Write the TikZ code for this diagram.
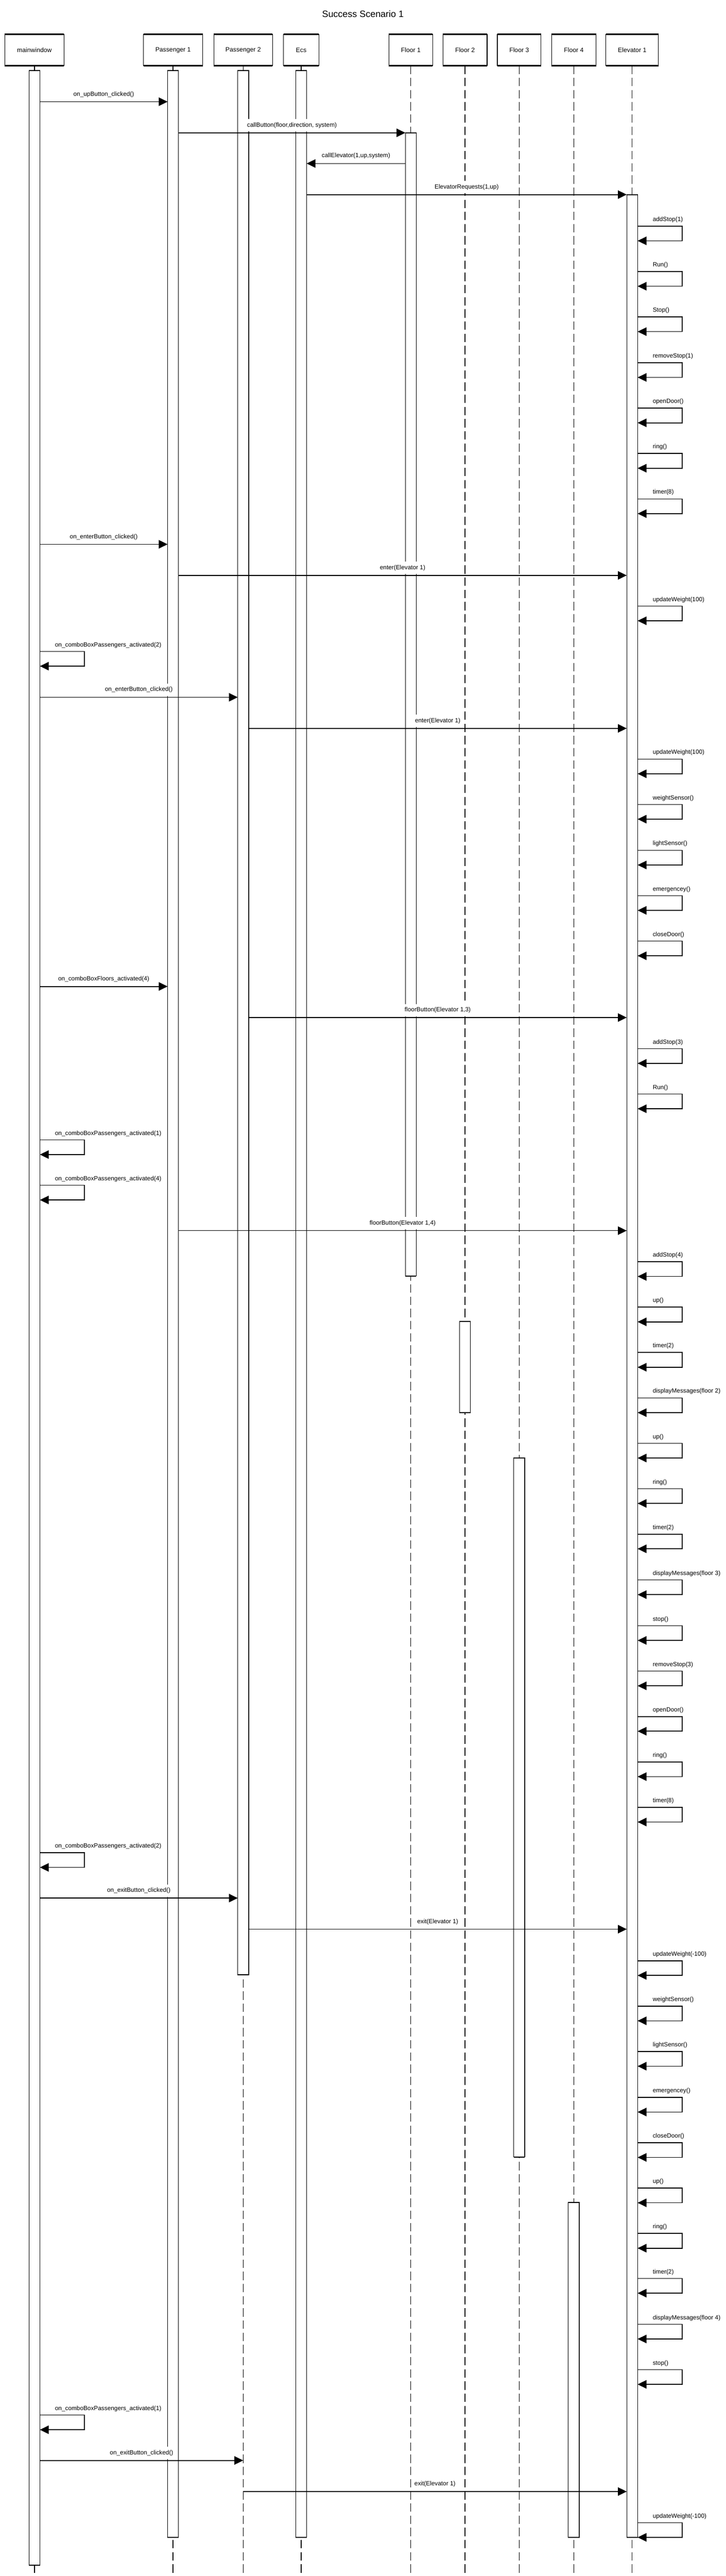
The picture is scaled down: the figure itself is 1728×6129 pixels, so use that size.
\documentclass[tikz,border=0pt]{standalone}
\usepackage{fontspec}
\setmainfont{Liberation Sans}
\usetikzlibrary{arrows.meta}

\tikzset{
  head/.style={draw, line width=1.5pt, minimum height=74pt, inner sep=0pt, outer sep=0pt, font=\fontsize{15}{18}\selectfont},
  bar/.style={draw, fill=white, line width=1.5pt, minimum width=26pt, inner sep=0pt, outer sep=0pt, anchor=north},
  edge/.style={line width=3.5pt},
  life/.style={line width=1.5pt, dash pattern=on 20pt off 9pt},
  msg/.style={line width=2pt, -{Triangle[length=21pt,width=20pt]}},
  lbl/.style={above=2pt, fill=white, inner xsep=3pt, inner ysep=8pt, text height=10.5pt, text depth=3pt, font=\fontsize{14.5}{17}\selectfont},
  slbl/.style={anchor=base west, xshift=35pt, yshift=11.5pt, inner sep=0pt, font=\fontsize{14.5}{17}\selectfont}
}

% message between two lifelines at height #3
\newcommand{\callmsg}[4]{\draw[msg] (#1 |- 0,#3) -- node[lbl]{#4} (#2 |- 0,#3);}
% message to itself
\newcommand{\selfmsg}[3]{\draw[msg] (#1.east |- 0,#2) node[slbl]{#3} -- ++(106,0) -- ++(0,35) -- ++(-106,0);}

\begin{document}
\begin{tikzpicture}[x=1pt,y=-1pt]
	\useasboundingbox (0,0) rectangle (1728,6129);
	\node[font=\fontsize{22}{26}\selectfont] (title) at (864,33) {Success Scenario 1};
	
	%heads
	\node[head, minimum width=141pt] (mw) at (82,119) {mainwindow};
	\node[head, minimum width=141pt] (pa) at (412,119) {Passenger 1};
	\node[head, minimum width=140pt] (pb) at (579,119) {Passenger 2};
	\node[head, minimum width=84pt] (ecs) at (717,119) {Ecs};
	\node[head, minimum width=104pt] (fa) at (978,119) {Floor 1};
	\node[head, minimum width=105pt] (fb) at (1107,119) {Floor 2};
	\node[head, minimum width=104pt] (fc) at (1236,119) {Floor 3};
	\node[head, minimum width=106pt] (fd) at (1366,119) {Floor 4};
	\node[head, minimum width=125pt] (el) at (1505,119) {Elevator 1};
	\foreach \n in {mw,pa,pb,ecs,fa,fb,fc,fd,el}
	{\draw[edge] (\n.north west)--(\n.north east);
	 \draw[edge] (\n.south west)--(\n.south east);
	 \draw[life] (\n.south)--(\n.south |- 0,6129);}
	
	%activations
	\node[bar, minimum height=5935pt] (mwbar) at (mw |- 0,168) {};
	\node[bar, minimum height=5869pt] (pabar) at (pa |- 0,168) {};
	\node[bar, minimum height=4531pt] (pbbar) at (pb |- 0,168) {};
	\node[bar, minimum height=5869pt] (ecsbar) at (ecs |- 0,168) {};
	\node[bar, minimum height=2720pt] (fabar) at (fa |- 0,316) {};
	\node[bar, minimum height=217pt] (fbbar) at (fb |- 0,3144) {};
	\node[bar, minimum height=1663pt] (fcbar) at (fc |- 0,3469) {};
	\node[bar, minimum height=797pt] (fdbar) at (fd |- 0,5240) {};
	\node[bar, minimum height=5574pt] (elbar) at (el |- 0,463) {};
	\foreach \b in {mwbar,pabar,pbbar,ecsbar,fabar,fbbar,fcbar,fdbar,elbar}
	{\draw[line width=2.5pt] (\b.north west)--(\b.north east);
	 \draw[line width=2.5pt] (\b.south west)--(\b.south east);}
	
	%call
	\callmsg{mwbar.east}{pabar.west}{242}{on\_upButton\_clicked()}
	\callmsg{pabar.east}{fabar.west}{316}{callButton(floor,direction, system)}
	\callmsg{fabar.west}{ecsbar.east}{389}{callElevator(1,up,system)}
	\callmsg{ecsbar.east}{elbar.west}{463}{ElevatorRequests(1,up)}
	\foreach \y/\lab in {538/addStop(1),646/Run(),754/Stop(),863/removeStop(1),971/openDoor(),1079/ring(),1187/timer(8)}
	{\selfmsg{elbar}{\y}{\lab}}
	
	%passenger 1 enters
	\callmsg{mwbar.east}{pabar.west}{1295}{on\_enterButton\_clicked()}
	\callmsg{pabar.east}{elbar.west}{1369}{enter(Elevator 1)}
	\selfmsg{elbar}{1442}{updateWeight(100)}
	\selfmsg{mwbar}{1550}{on\_comboBoxPassengers\_activated(2)}
	
	%passenger 2 enters
	\callmsg{mwbar.east}{pbbar.west}{1659}{on\_enterButton\_clicked()}
	\callmsg{pbbar.east}{elbar.west}{1733}{enter(Elevator 1)}
	\foreach \y/\lab in {1806/updateWeight(100),1914/weightSensor(),2023/lightSensor(),2131/emergencey(),2239/closeDoor()}
	{\selfmsg{elbar}{\y}{\lab}}
	
	%floors
	\callmsg{mwbar.east}{pabar.west}{2347}{on\_comboBoxFloors\_activated(4)}
	\callmsg{pbbar.east}{elbar.west}{2421}{floorButton(Elevator 1,3)}
	\selfmsg{elbar}{2495}{addStop(3)}
	\selfmsg{elbar}{2603}{Run()}
	\selfmsg{mwbar}{2712}{on\_comboBoxPassengers\_activated(1)}
	\selfmsg{mwbar}{2820}{on\_comboBoxPassengers\_activated(4)}
	\callmsg{pabar.east}{elbar.west}{2928}{floorButton(Elevator 1,4)}
	\foreach \y/\lab in {3002/addStop(4),3110/up(),3218/timer(2),3326/displayMessages(floor 2),3434/up(),3542/ring(),3650/timer(2),3759/displayMessages(floor 3),3868/stop(),3976/removeStop(3),4084/openDoor(),4192/ring(),4300/timer(8)}
	{\selfmsg{elbar}{\y}{\lab}}
	
	%passenger 2 exits
	\selfmsg{mwbar}{4408}{on\_comboBoxPassengers\_activated(2)}
	\callmsg{mwbar.east}{pbbar.west}{4516}{on\_exitButton\_clicked()}
	\callmsg{pbbar.east}{elbar.west}{4590}{exit(Elevator 1)}
	\foreach \y/\lab in {4665/updateWeight(-100),4773/weightSensor(),4881/lightSensor(),4990/emergencey(),5098/closeDoor(),5206/up(),5314/ring(),5421/timer(2),5530/displayMessages(floor 4),5638/stop()}
	{\selfmsg{elbar}{\y}{\lab}}
	
	%passenger 1 exits
	\selfmsg{mwbar}{5746}{on\_comboBoxPassengers\_activated(1)}
	\callmsg{mwbar.east}{pb}{5854}{on\_exitButton\_clicked()}
	\callmsg{pb}{elbar.west}{5928}{exit(Elevator 1)}
	\selfmsg{elbar}{6002}{updateWeight(-100)}
\end{tikzpicture}
\end{document}
